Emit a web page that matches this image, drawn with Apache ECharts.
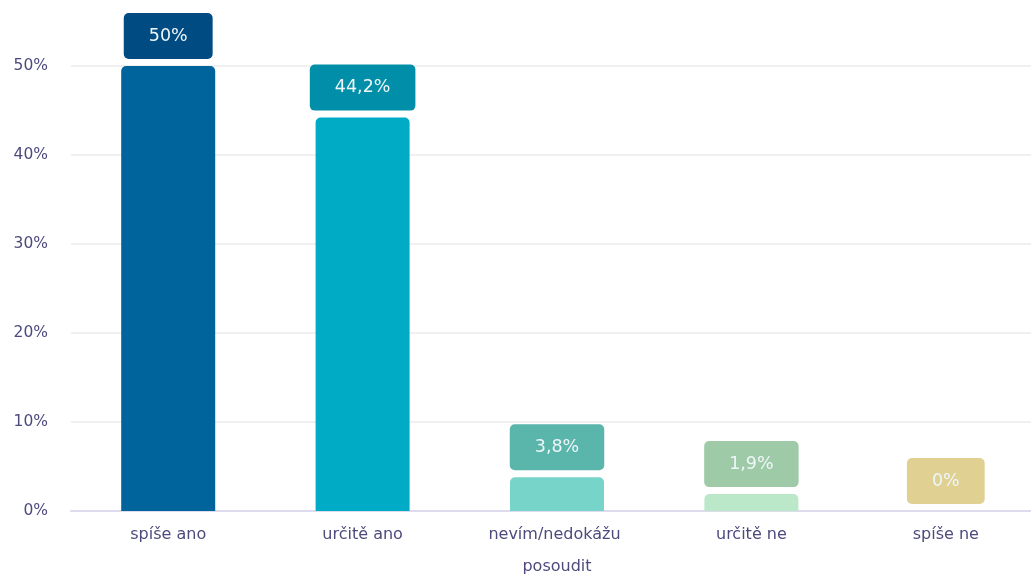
<!DOCTYPE html>
<html>
<head>
<meta charset="utf-8">
<script src="https://cdn.jsdelivr.net/npm/echarts@6/dist/echarts.min.js"></script>
<style>
html,body{margin:0;padding:0;background:#fff;}
#c{width:1031px;height:577px;}
</style>
</head>
<body>
<div id="c"></div>
<script>
const categories = ['spíše ano', 'určitě ano', 'nevím/nedokážu posoudit', 'určitě ne', 'spíše ne'];
const values = [50, 44.2, 3.8, 1.9, 0];
const labelTexts = ['50%', '44,2%', '3,8%', '1,9%', '0%'];
const yTicks = [0, 10, 20, 30, 40, 50];

const barColors = ['#00649c', '#00abc5', '#76d4c9', '#bae8c8', '#efe0a4'];
const boxColors = ['#004b82', '#008ea8', '#5ab5ab', '#9fcaa8', '#e0d092'];

const chart = echarts.init(document.getElementById('c'), null, {renderer: 'canvas'});
const font = '"DejaVu Sans", "Noto Sans", sans-serif';
chart.setOption({
  animation: false,
  grid: {left: 71, right: -12, top: 66, bottom: 66, containLabel: false, outerBoundsMode: 'none'},
  xAxis: {
    type: 'category',
    data: categories,
    axisLine: {lineStyle: {color: '#dcdcee', width: 2}},
    axisTick: {show: false},
    axisLabel: {
      interval: 0, color: '#4d4a7d', fontSize: 16, fontFamily: font,
      margin: 8, lineHeight: 32, width: 170, overflow: 'break'
    }
  },
  yAxis: {
    type: 'value',
    min: yTicks[0], max: yTicks[yTicks.length - 1], interval: 10,
    axisLine: {show: false},
    axisTick: {show: false},
    splitLine: {lineStyle: {color: '#ebebeb', width: 1.5}},
    axisLabel: {
      color: '#4d4a7d', fontSize: 15.5, fontFamily: font, margin: 23,
      formatter: v => v + '%'
    }
  },
  series: [{
    type: 'bar',
    barWidth: 94,
    data: values.map((v, i) => ({
      value: v,
      itemStyle: {color: barColors[i], borderRadius: [5, 5, 0, 0]},
      label: {backgroundColor: boxColors[i]}
    })),
    label: {
      show: true,
      position: 'top',
      distance: 7,
      formatter: p => labelTexts[p.dataIndex],
      color: '#eef6f8',
      fontSize: 17.5,
      fontFamily: font,
      lineHeight: 20,
      padding: [13, 25, 13, 25],
      borderRadius: 5
    }
  }]
});
</script>
</body>
</html>
